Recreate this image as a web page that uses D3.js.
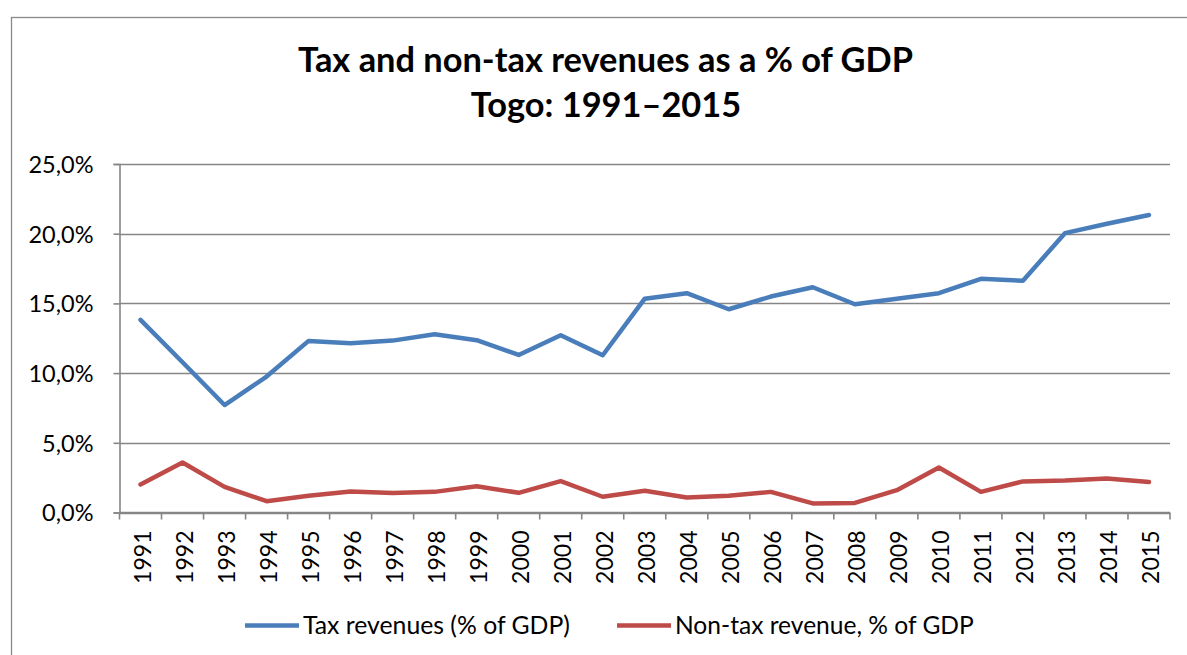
<!DOCTYPE html>
<html><head><meta charset="utf-8">
<script src="https://cdn.jsdelivr.net/npm/d3@7"></script>
<style>body{margin:0;background:#fff;}svg{display:block;}</style>
</head><body>
<svg id="c" width="1187" height="655"></svg>
<script>
const years = ["1991","1992","1993","1994","1995","1996","1997","1998","1999","2000","2001","2002","2003","2004","2005","2006","2007","2008","2009","2010","2011","2012","2013","2014","2015"];
const taxRevenues = [13.82,10.78,7.71,9.75,12.31,12.14,12.33,12.79,12.36,11.30,12.72,11.28,15.34,15.73,14.58,15.49,16.16,14.94,15.33,15.73,16.76,16.62,20.04,20.71,21.34];
const nonTaxRevenue = [2.01,3.59,1.84,0.81,1.20,1.51,1.39,1.48,1.89,1.41,2.25,1.13,1.56,1.08,1.20,1.48,0.65,0.69,1.60,3.23,1.48,2.23,2.30,2.44,2.18];
const yTicks = [0,5,10,15,20,25];
const titleLines = ["Tax and non-tax revenues as a % of GDP","Togo: 1991\u20132015"];
const seriesNames = ["Tax revenues (% of GDP)","Non-tax revenue, % of GDP"];

const FONT = "Lato, 'Open Sans', sans-serif";
const svg = d3.select("#c");
const m = {left:119.5, right:1170, top:164, bottom:512.5};
const x = d3.scaleBand().domain(years).range([m.left, m.right]);
const y = d3.scaleLinear().domain([0,25]).range([m.bottom, m.top]);
const gridColor = "#868686";

// outer border
svg.append("rect").attr("x",11.5).attr("y",17.5).attr("width",1200).attr("height",700)
  .attr("fill","none").attr("stroke","#898989").attr("stroke-width",1.3);

function fitText(sel, target){
  const w = sel.node().getComputedTextLength();
  const fs = parseFloat(sel.attr("font-size"));
  sel.attr("font-size", fs*target/w);
}
// title
const t1 = svg.append("text").attr("x",605.5).attr("y",72).attr("text-anchor","middle")
  .attr("font-family",FONT).attr("font-weight","bold").attr("font-size",28).attr("fill","#000").text(titleLines[0]);
fitText(t1, 615);
const t2 = svg.append("text").attr("x",606).attr("y",117).attr("text-anchor","middle")
  .attr("font-family",FONT).attr("font-weight","bold").attr("font-size",28).attr("fill","#000").text(titleLines[1]);
t2.attr("font-size", t1.attr("font-size"));

// gridlines
svg.append("g").selectAll("line").data(yTicks).join("line")
  .attr("x1",m.left).attr("x2",m.right).attr("y1",d=>Math.round(y(d))+0.5).attr("y2",d=>Math.round(y(d))+0.5)
  .attr("stroke",gridColor).attr("stroke-width",1.6);

// y axis
const yAxis = d3.axisLeft(y).tickValues(yTicks).tickSize(6).tickPadding(20)
  .tickFormat(d=>d3.format(".1f")(d).replace(".",",")+"%");
const gy = svg.append("g").attr("transform",`translate(${m.left},0)`).call(yAxis);
gy.select(".domain").attr("stroke",gridColor).attr("stroke-width",1.6);
gy.selectAll(".tick line").attr("stroke",gridColor).attr("stroke-width",1.6);
gy.selectAll(".tick text").attr("font-family",FONT).attr("font-size",23.5).attr("fill","#000").attr("dy","0.36em");

// x axis
const gx = svg.append("g").attr("transform",`translate(0,${m.bottom})`);
gx.append("line").attr("x1",m.left).attr("x2",m.right).attr("stroke",gridColor).attr("stroke-width",1.6);
const bounds = years.map(d=>x(d)).concat([m.right]);
gx.selectAll(".xt").data(bounds).join("line").attr("class","xt")
  .attr("x1",d=>d).attr("x2",d=>d).attr("y1",0).attr("y2",7).attr("stroke",gridColor).attr("stroke-width",1.6);
gx.selectAll(".xl").data(years).join("text").attr("class","xl")
  .attr("transform",d=>`translate(${x(d)+x.bandwidth()/2+10.5},18) rotate(-90)`)
  .attr("text-anchor","end").attr("font-family",FONT).attr("font-size",23).attr("fill","#000").text(d=>d);

// lines
const colors = ["#4A7EBB","#BE4B48"];
const line = d3.line().x((d,i)=>x(years[i])+x.bandwidth()/2).y(d=>y(d));
[taxRevenues, nonTaxRevenue].forEach((s,k)=>{
  svg.append("path").datum(s).attr("d",line).attr("fill","none").attr("stroke",colors[k])
    .attr("stroke-width",4.5).attr("stroke-linejoin","round").attr("stroke-linecap","round");
});

// legend
const legX = [245, 617];
const legW = [267, 299];
seriesNames.forEach((n,k)=>{
  svg.append("line").attr("x1",legX[k]).attr("x2",legX[k]+54).attr("y1",625.5).attr("y2",625.5)
    .attr("stroke",colors[k]).attr("stroke-width",4.5);
  const t = svg.append("text").attr("x",legX[k]+58).attr("y",634).attr("font-family",FONT).attr("font-size",24)
    .attr("fill","#000").text(n);
  fitText(t, legW[k]);
});
</script>
</body></html>
